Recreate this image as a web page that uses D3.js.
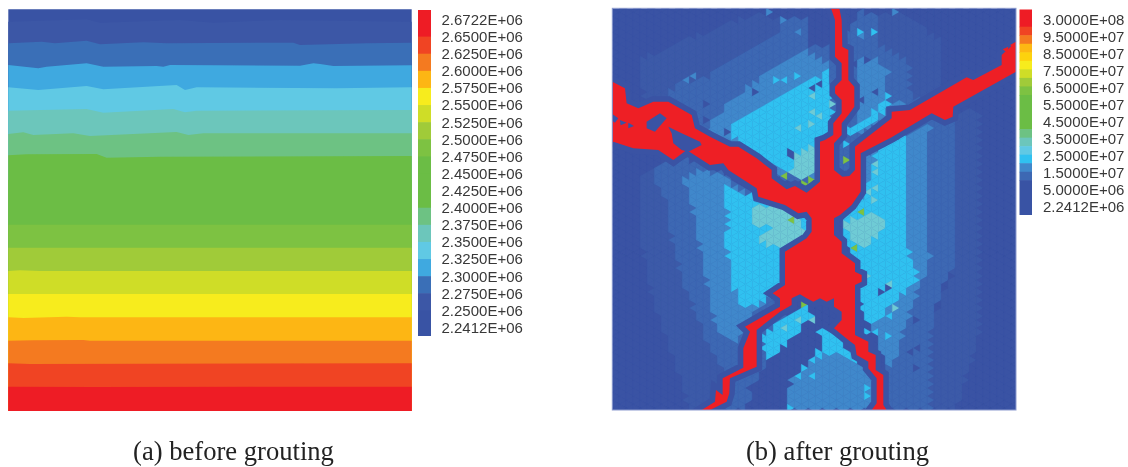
<!DOCTYPE html>
<html>
<head>
<meta charset="utf-8">
<script src="https://cdnjs.cloudflare.com/ajax/libs/d3/7.8.5/d3.min.js"></script>
<style>
  body { margin: 0; background: #fff; }
  svg { display: block; filter: blur(0.45px); }
  .tick-label { font-family: "Liberation Sans", Arial, sans-serif; font-size: 15px; fill: #383838; }
  .caption { font-family: "Liberation Serif", "Times New Roman", serif; font-size: 26.6px; fill: #222; text-anchor: middle; }
</style>
</head>
<body>
<div id="chart"></div>
<script>
// Colour bar labels
var labelsA = ["2.6722E+06", "2.6500E+06", "2.6250E+06", "2.6000E+06", "2.5750E+06", "2.5500E+06", "2.5250E+06",
  "2.5000E+06", "2.4750E+06", "2.4500E+06", "2.4250E+06", "2.4000E+06", "2.3750E+06", "2.3500E+06", "2.3250E+06",
  "2.3000E+06", "2.2750E+06", "2.2500E+06", "2.2412E+06"];
var labelsB = ["3.0000E+08", "9.5000E+07", "8.5000E+07", "7.5000E+07", "6.5000E+07", "5.5000E+07", "4.5000E+07",
  "3.5000E+07", "2.5000E+07", "1.5000E+07", "5.0000E+06", "2.2412E+06"];

// Colour bar (a): one colour between each pair of labels, top to bottom
var barColorsA = ["#ee1c25", "#f04423", "#f47a20", "#fdb614", "#f7ec1d", "#cfdd27", "#a0cb39", "#7dc242", "#6bbd45",
  "#6bbd45", "#6bbd45", "#6dc283", "#6cc6bb", "#60c9e4", "#3fa9e0", "#3a6fb7", "#3c57a6", "#3953a4"];

// Colour bar (b): value breaks (Pa) from 1.0E+08 to 1.0E+07, and colours top to bottom
var barBreaksB = [1.0e8, 9.5e7, 9.0e7, 8.5e7, 8.0e7, 7.5e7, 7.0e7, 6.5e7, 6.0e7, 4.0e7, 3.5e7, 3.0e7, 2.5e7, 2.0e7, 1.5e7, 1.0e7];
var barColorsB = ["#ee1c25", "#f04423", "#f47a20", "#fdb813", "#fdd20e", "#f7ec1d", "#cfdd27", "#a0cb39", "#7dc242",
  "#6bbd45", "#6dc283", "#6cc6bb", "#60c9e4", "#30c1f0", "#4088cb", "#3d68b3", "#3953a4"];

// Panel (a): bands from top to bottom, and the contour line under each band except the last
var bandColors = ["#3953a4", "#3c57a6", "#3a6fb7", "#3fa9e0", "#60c9e4", "#6cc6bb", "#6dc283", "#6bbd45", "#6cbd45",
  "#7dc242", "#a0cb39", "#cfdd27", "#f7ec1d", "#fdb614", "#f47a20", "#f04423", "#ee1c25"];
var bandEdges = [
  [[25,65],[260,58],[300,68],[540,60],[640,68],[840,60],[1235,65]],
  [[25,130],[125,125],[165,130],[260,122],[300,133],[430,127],[500,130],[880,128],[900,135],[1100,130],[1235,128]],
  [[25,195],[115,205],[140,200],[260,190],[310,200],[470,198],[490,200],[510,195],[900,197],[940,190],[960,192],[1000,198],[1235,196]],
  [[25,262],[115,270],[260,258],[310,268],[530,255],[555,270],[590,262],[1010,265],[1235,262]],
  [[25,332],[260,327],[310,338],[520,327],[555,337],[590,332],[1235,330]],
  [[25,402],[70,397],[100,405],[220,400],[270,408],[530,396],[565,405],[610,400],[1235,400]],
  [[25,466],[80,463],[290,462],[320,473],[480,470],[1235,468]],
  [[25,540],[1235,540]],
  [[25,674],[1235,674]],
  [[25,743],[1235,743]],
  [[25,813],[60,811],[120,813],[1235,813]],
  [[25,882],[1235,882]],
  [[25,952],[70,954],[200,950],[240,952],[1235,952]],
  [[25,1022],[100,1021],[250,1020],[270,1022],[1235,1022]],
  [[25,1090],[90,1092],[1235,1090]],
  [[25,1160],[280,1161],[1235,1160]]
];

// Panel (b): stress levels of the mesh, read as zones, lowest first
var levelColors = ["#3a53a4", "#3d68b3", "#4088cb", "#30c1f0", "#6fcbd5", "#7dc242", "#3c5aa8"];
var zones = [
  { level: 6, ring: [[90,520],[170,500],[170,615],[215,830],[280,1000],[340,1100],[340,1230],[240,1230],[130,900],[90,700]] },
  { level: 6, ring: [[1040,340],[1110,330],[1110,1000],[1040,1230],[960,1230],[960,1000],[1040,780]] },
  { level: 6, ring: [[90,180],[280,100],[440,40],[510,60],[510,100],[290,235],[150,320],[100,300]] },
  { level: 6, ring: [[800,50],[880,40],[1000,130],[1000,260],[965,320],[900,280],[900,190],[800,130]] },
  { level: 1, ring: [[510,60],[590,60],[590,145],[660,145],[740,60],[740,25],[800,50],[800,130],[900,190],[900,280],[965,320],[700,560],[500,540],[150,320],[200,250],[290,235],[370,170],[440,130],[510,100]] },
  { level: 1, ring: [[120,500],[230,480],[350,520],[450,600],[520,620],[520,1000],[440,1150],[400,1230],[340,1230],[340,1100],[280,1000],[215,830],[190,740],[170,615]] },
  { level: 1, ring: [[960,345],[1040,340],[1030,615],[1040,780],[1000,850],[960,1000],[960,1230],[830,1230],[830,1000],[760,800],[760,470]] },
  { level: 2, ring: [[590,150],[660,195],[660,420],[630,540],[500,520],[290,400],[340,320],[410,265],[480,215]] },
  { level: 2, ring: [[740,170],[800,170],[830,230],[830,300],[900,320],[740,410]] },
  { level: 2, ring: [[220,535],[280,510],[340,530],[445,610],[525,640],[525,850],[480,890],[400,980],[390,1030],[320,990],[280,800],[250,640]] },
  { level: 2, ring: [[900,400],[960,365],[950,615],[960,780],[930,860],[880,1000],[850,1100],[830,1100],[790,1000],[750,850],[750,470]] },
  { level: 3, ring: [[610,240],[660,220],[670,290],[670,400],[635,440],[620,520],[560,540],[490,500],[350,400],[370,370],[470,310],[550,260]] },
  { level: 3, ring: [[700,380],[760,370],[830,290],[840,320],[750,400],[700,400]] },
  { level: 3, ring: [[340,560],[440,590],[520,630],[590,640],[600,700],[525,750],[520,860],[470,905],[400,925],[370,855],[345,715],[355,665]] },
  { level: 3, ring: [[810,425],[895,400],[895,610],[880,700],[925,840],[870,890],[800,960],[760,975],[745,870],[770,830],[700,720],[700,640],[760,590]] },
  { level: 3, ring: [[450,1015],[500,975],[590,910],[610,945],[530,1035],[470,1085]] },
  { level: 3, ring: [[620,975],[670,995],[740,1075],[760,1105],[680,1055],[600,1085],[640,1035]] },
  { level: 4, ring: [[550,470],[610,440],[620,520],[590,540],[540,530]] },
  { level: 4, ring: [[420,625],[470,615],[560,645],[590,705],[520,745],[470,735],[445,715],[480,685],[425,675]] },
  { level: 4, ring: [[700,670],[760,645],[840,655],[815,695],[760,745],[720,725]] },
  { level: 2, ring: [[530,1145],[600,1085],[680,1055],[760,1105],[800,1135],[800,1230],[530,1230]] },
  { level: 0, ring: [[610,945],[650,960],[620,1015],[540,1145],[530,1230],[430,1230],[460,1110],[530,1035]] }
];

// Single mesh cells that differ from their zone: [x, y, level]
var cells = [
  [785,95,3],[745,100,3],[645,215,3],[555,220,3],[490,245,3],[520,240,3],[510,300,3],[530,295,3],[480,320,3],[470,440,3],
  [490,435,3],[595,290,3],[640,330,3],[570,350,3],[600,360,3],[570,380,3],[830,290,3],[830,310,3],[730,385,3],[750,390,3],
  [800,340,3],[700,440,3],[700,470,3],[600,290,4],[660,310,4],[600,335,4],[565,385,4],[595,370,4],[630,350,4],[800,490,4],
  [790,520,4],[800,600,4],[800,560,4],[780,580,4],[530,525,5],[580,545,5],[600,535,5],[700,485,5],[770,190,2],[800,210,2],
  [830,210,2],[750,230,2],[780,240,2],[250,235,2],[220,240,2],[340,345,2],[360,355,2],[745,190,2],[760,100,2],[560,100,2],
  [530,60,2],[480,40,2],[860,40,2],[780,180,0],[790,280,0],[740,200,0],[760,300,0],[350,395,0],[290,310,0],[280,360,0],
  [437,280,0],[545,455,0],[545,470,0],[625,250,0],[610,260,0],[580,905,5],[680,980,5],[540,665,5],[760,640,5],[710,685,5],
  [740,745,5],[390,860,3],[370,870,3],[450,1010,3],[470,1000,3],[580,1100,3],[600,1130,3],[570,1120,3],[770,1160,3],[770,1190,3],
  [830,1010,3],[810,950,3],[840,950,3],[790,960,3],[770,1000,3],[790,1000,3],[550,1225,3],[820,880,0],[815,875,0],[835,865,0],
  [910,960,0],[910,1100,0],[905,1050,0],[920,1040,0],[420,1160,0],[430,1190,0],[850,920,4],[840,860,4],[720,680,4],[780,830,4],
  [600,960,4],[560,960,4],[525,980,4]
];

// Grouted fractures (above 1.0E+08), with the holes inside them
var fracture = [[688,25],[695,60],[697,140],[715,150],[715,240],[733,260],[733,320],[715,345],[695,370],[695,405],[672,430],[672,510],
  [697,530],[718,528],[735,510],[735,440],[845,355],[845,335],[900,330],[1070,232],[1090,240],[1175,195],[1175,165],[1218,125],
  [1218,215],[1030,320],[1028,350],[1005,360],[965,340],[845,412],[752,460],[752,575],[725,615],[690,645],[672,655],[672,705],
  [695,725],[695,760],[735,790],[735,815],[755,825],[755,845],[735,855],[735,1005],[775,1025],[775,1055],[797,1065],[797,1110],
  [820,1125],[820,1215],[830,1230],[785,1230],[800,1210],[800,1135],[775,1105],[775,1085],[740,1065],[735,1035],[715,1020],[672,985],
  [695,960],[695,935],[672,920],[672,895],[650,905],[630,895],[610,905],[590,895],[570,883],[545,895],[545,915],[510,935],
  [440,990],[440,1100],[360,1135],[358,1180],[350,1205],[300,1230],[275,1230],[315,1205],[318,1170],[338,1185],[338,1135],[400,1103],
  [400,1045],[420,995],[405,980],[510,920],[510,895],[488,880],[525,855],[525,755],[590,715],[605,695],[605,655],[590,635],
  [565,640],[525,615],[445,590],[440,565],[355,510],[340,490],[300,495],[230,450],[190,480],[145,450],[70,445],[10,425],
  [7,435],[7,245],[45,265],[50,310],[85,325],[130,305],[175,305],[245,345],[255,385],[300,410],[360,440],[385,440],
  [440,475],[485,510],[485,535],[530,568],[555,558],[590,578],[630,545],[630,425],[645,420],[670,405],[670,370],[695,340],
  [695,300],[675,280],[675,260],[695,240],[695,190],[675,170],[675,60],[663,25]];
var fractureBits = [[[1178,148],[1195,140],[1192,158]], [[1200,135],[1218,125],[1218,150]]];
var fractureHoles = [
  [[110,365],[150,340],[170,355],[135,395],[110,385]],
  [[175,380],[215,400],[270,425],[275,435],[235,455],[215,450],[190,430],[185,400]],
  [[7,342],[25,355],[15,368],[7,362]],
  [[30,360],[50,368],[32,376]],
  [[55,368],[72,378],[55,385]]
];

var captions = ["(a) before grouting", "(b) after grouting"];

var svg = d3.select("#chart").append("svg")
  .attr("width", 1128)
  .attr("height", 467);

// Panel (a) scales
var xA = d3.scaleLinear().domain([25, 1235]).range([8.3, 411.7]);
var yA = d3.scaleLinear().domain([28, 1233]).range([9.3, 411]);

// Each band runs from its upper edge to the panel bottom, later bands paint over it
var panelA = svg.append("g");
var bandArea = d3.area()
  .x(d => xA(d[0]))
  .y0(yA(1233))
  .y1(d => yA(d[1]));

panelA.selectAll("path")
  .data(bandColors)
  .join("path")
  .attr("d", (d, i) => bandArea(i === 0 ? [[25, 28], [1235, 28]] : bandEdges[i - 1]))
  .attr("fill", d => d);

// Panel (b) scales
var xB = d3.scaleLinear().domain([7, 1218]).range([612.3, 1016]);
var yB = d3.scaleLinear().domain([25, 1230]).range([8.3, 410]);

svg.append("clipPath").attr("id", "clip-b")
  .append("rect")
  .attr("x", xB(7)).attr("y", yB(25))
  .attr("width", xB(1218) - xB(7))
  .attr("height", yB(1230) - yB(25));

var panelB = svg.append("g").attr("clip-path", "url(#clip-b)");

// Triangular mesh in the same units, alternate columns shifted half a cell
var meshX = 21, meshY = 24;
var vertex = (c, r) => [7 + c * meshX, 25 + r * meshY - (c % 2 ? meshY / 2 : 0)];
var mesh = [];
d3.range(0, 58).forEach(c => {
  d3.range(0, 52).forEach(r => {
    var a = vertex(c, r), b = vertex(c, r + 1);
    var p = vertex(c + 1, r + (c % 2 ? 0 : 1)), q = vertex(c + 1, r + (c % 2 ? 1 : 2));
    mesh.push([a, b, p]);
    mesh.push([b, p, q]);
  });
});

function cellLevel(tri) {
  var level = 0;
  var center = d3.polygonCentroid(tri);
  zones.forEach(z => {
    if (d3.polygonContains(z.ring, center)) level = z.level;
  });
  return level;
}

var triLevels = mesh.map(cellLevel);
cells.forEach(c => {
  var hit = mesh.findIndex(t => d3.polygonContains(t, [c[0], c[1]]));
  if (hit >= 0) triLevels[hit] = c[2];
});

var ringPath = d3.line().x(d => xB(d[0])).y(d => yB(d[1]));

panelB.append("rect")
  .attr("x", xB(7)).attr("y", yB(25))
  .attr("width", xB(1218) - xB(7))
  .attr("height", yB(1230) - yB(25))
  .attr("fill", levelColors[0]);

panelB.append("g").selectAll("path")
  .data(mesh)
  .join("path")
  .attr("d", d => ringPath(d) + "Z")
  .attr("fill", (d, i) => levelColors[triLevels[i]])
  .attr("stroke", (d, i) => levelColors[triLevels[i]])
  .attr("stroke-width", 0.4);

// Low stress rim along the fractures, then the fractures
panelB.append("path")
  .attr("d", ringPath(fracture) + "Z")
  .attr("fill", "none")
  .attr("stroke", levelColors[0])
  .attr("stroke-width", 11)
  .attr("stroke-linejoin", "miter");

panelB.append("path")
  .attr("d", ringPath(fracture) + "Z")
  .attr("fill", "#ee1f25");

panelB.append("g").selectAll("path")
  .data(fractureBits)
  .join("path")
  .attr("d", d => ringPath(d) + "Z")
  .attr("fill", "#ee1f25");

panelB.append("g").selectAll("path")
  .data(fractureHoles)
  .join("path")
  .attr("d", d => ringPath(d) + "Z")
  .attr("fill", levelColors[0]);

// Panel outlines
svg.append("rect")
  .attr("x", xB(7)).attr("y", yB(25))
  .attr("width", xB(1218) - xB(7))
  .attr("height", yB(1230) - yB(25))
  .attr("fill", "none")
  .attr("stroke", "#8d9ccf");

// Colour bar (a): labels sit on the colour breaks, the two end colours run past them
// painted bottom up over a slight overlap so no seams show between equal colours
var barYA = d3.scalePoint().domain(labelsA).range([19.5, 327.5]);
svg.append("g").selectAll("rect")
  .data(barColorsA)
  .join("rect")
  .attr("x", 418)
  .attr("width", 13)
  .attr("y", (d, i) => i === 0 ? 10 : barYA(labelsA[i]))
  .attr("height", (d, i) => (i === barColorsA.length - 1 ? 336 : barYA(labelsA[i + 1]) + 0.6) - (i === 0 ? 10 : barYA(labelsA[i])))
  .attr("fill", d => d);

svg.append("g").selectAll("text")
  .data(labelsA)
  .join("text")
  .attr("class", "tick-label")
  .attr("x", 441.5)
  .attr("y", d => barYA(d))
  .attr("dy", "0.36em")
  .text(d => d);

// Colour bar (b): breaks are placed by value, labels evenly
var barYB = d3.scaleLinear().domain([1.0e8, 1.0e7]).range([26.7, 180.3]);
var labelYB = d3.scalePoint().domain(labelsB).range([19.3, 206.7]);
var breaksTop = [9.5].concat(barBreaksB.map(barYB));
var breaksBottom = barBreaksB.map(barYB).concat([215]);
svg.append("g").selectAll("rect")
  .data(barColorsB)
  .join("rect")
  .attr("x", 1019.5)
  .attr("width", 12.5)
  .attr("y", (d, i) => breaksTop[i])
  .attr("height", (d, i) => breaksBottom[i] - breaksTop[i] + (i < barColorsB.length - 1 ? 0.6 : 0))
  .attr("fill", d => d);

svg.append("g").selectAll("text")
  .data(labelsB)
  .join("text")
  .attr("class", "tick-label")
  .attr("x", 1043)
  .attr("y", d => labelYB(d))
  .attr("dy", "0.36em")
  .text(d => d);

// Captions
svg.append("text").attr("class", "caption").attr("x", 233.5).attr("y", 460).text(captions[0]);
svg.append("text").attr("class", "caption").attr("x", 837.5).attr("y", 460).text(captions[1]);
</script>
</body>
</html>
